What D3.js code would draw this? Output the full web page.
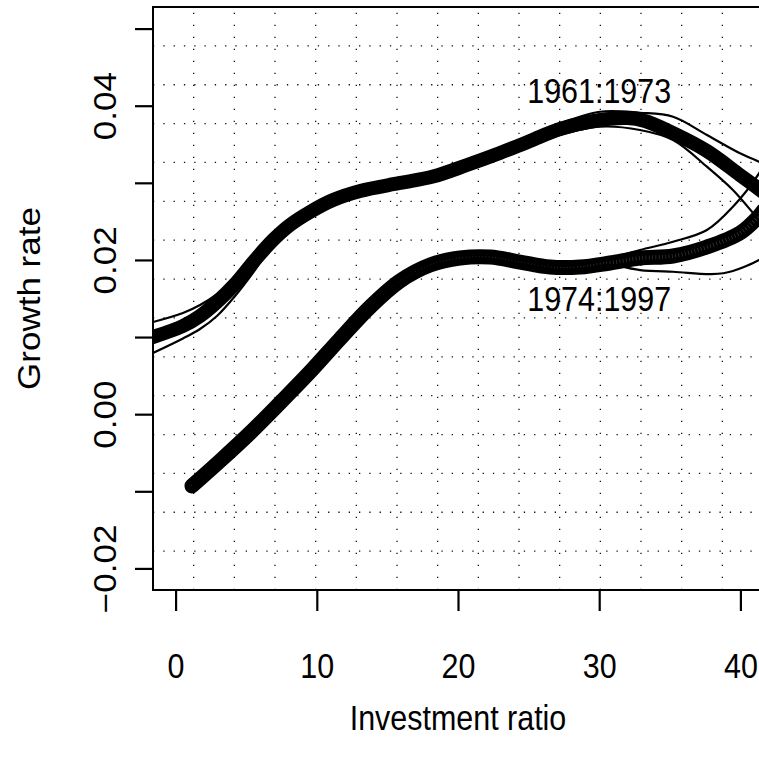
<!DOCTYPE html>
<html>
<head>
<meta charset="utf-8">
<script src="https://cdn.jsdelivr.net/npm/d3@7"></script>
<style>
html,body{margin:0;padding:0;background:#fff;}
svg{display:block;}
text{font-family:"Liberation Sans",Arial,Helvetica,sans-serif;fill:#000;}
</style>
</head>
<body>
<div id="chart"></div>
<script>
// ---------------- data ----------------
const xDataRange = [0, 40];
const yDataRange = [-0.02, 0.05];

const xTicks = [0, 10, 20, 30, 40];
const xTickLabels = ["0", "10", "20", "30", "40"];
const yTicks = [-0.02, -0.01, 0.00, 0.01, 0.02, 0.03, 0.04, 0.05];
const yTickLabels = ["\u22120.02", "", "0.00", "", "0.02", "", "0.04", ""];

const xLabel = "Investment ratio";
const yLabel = "Growth rate";

// 1961:1973 fit
const x1961 = [-1.6, 0.52, 1.73, 2.93, 4.21, 5.62, 6.90, 8.10, 9.52, 11.15, 13.07, 15.89, 18.23, 20.64, 22.97, 25.10, 27.22, 30.06, 31.97, 33.24, 35.23, 37.63, 39.97, 41.6];
const y1961 = [0.01001, 0.01143, 0.01273, 0.01455, 0.01688, 0.01999, 0.02258, 0.02453, 0.02622, 0.02777, 0.02894, 0.02998, 0.03082, 0.03231, 0.03387, 0.03542, 0.03698, 0.03815, 0.03840, 0.03802, 0.03646, 0.03413, 0.03101, 0.02881];
// 1961:1973 upper band
const x1961U = [-1.6, 0.52, 1.73, 2.93, 4.21, 5.62, 6.90, 8.10, 9.52, 11.15, 13.07, 15.89, 18.23, 20.64, 22.97, 25.10, 27.22, 30.06, 32.89, 35.23, 37.63, 39.97, 41.32, 41.6];
const y1961U = [0.01195, 0.01312, 0.01416, 0.01558, 0.01753, 0.02051, 0.02310, 0.02505, 0.02674, 0.02829, 0.02946, 0.03050, 0.03134, 0.03283, 0.03439, 0.03600, 0.03770, 0.03922, 0.03909, 0.03857, 0.03620, 0.03383, 0.03274, 0.03244];
// 1961:1973 lower band
const x1961L = [-1.6, 0.52, 1.73, 2.93, 4.21, 5.62, 6.90, 8.10, 9.52, 11.15, 13.07, 15.89, 18.23, 20.64, 22.97, 25.10, 27.22, 30.06, 32.89, 35.23, 37.63, 39.47, 41.32, 41.6];
const y1961L = [0.00793, 0.00981, 0.01104, 0.01273, 0.01532, 0.01869, 0.02206, 0.02401, 0.02570, 0.02725, 0.02842, 0.02946, 0.03030, 0.03179, 0.03335, 0.03480, 0.03620, 0.03728, 0.03685, 0.03555, 0.03209, 0.02907, 0.02518, 0.02466];

// 1974:1997 fit
const x1974 = [1.16, 3.14, 5.27, 7.39, 9.52, 11.64, 13.77, 15.89, 18.02, 20.14, 22.27, 24.39, 26.52, 28.64, 30.76, 32.89, 35.23, 37.63, 39.97, 41.32, 41.6];
const y1974 = [-0.00931, -0.00607, -0.00244, 0.00145, 0.00547, 0.00975, 0.01390, 0.01727, 0.01934, 0.02025, 0.02038, 0.01973, 0.01908, 0.01908, 0.01960, 0.02025, 0.02051, 0.02168, 0.02349, 0.02570, 0.02635];
// 1974:1997 upper band
const x1974U = [1.16, 3.14, 5.27, 7.39, 9.52, 11.64, 13.77, 15.89, 18.02, 20.14, 22.27, 24.39, 26.52, 28.64, 30.76, 32.89, 35.23, 37.63, 39.47, 41.32, 41.6];
const y1974U = [-0.00911, -0.00587, -0.00224, 0.00165, 0.00567, 0.00995, 0.01410, 0.01747, 0.01954, 0.02045, 0.02058, 0.01993, 0.01928, 0.01935, 0.02020, 0.02129, 0.02236, 0.02388, 0.02690, 0.03123, 0.03220];
// 1974:1997 lower band
const x1974L = [1.16, 3.14, 5.27, 7.39, 9.52, 11.64, 13.77, 15.89, 18.02, 20.14, 22.27, 24.39, 26.52, 28.64, 30.76, 32.89, 35.23, 38.79, 41.32, 41.6];
const y1974L = [-0.00951, -0.00627, -0.00264, 0.00125, 0.00527, 0.00955, 0.01370, 0.01707, 0.01914, 0.02005, 0.02018, 0.01953, 0.01888, 0.01888, 0.01935, 0.01869, 0.01847, 0.01827, 0.01999, 0.02040];

const labels = [
  {text: "1961:1973", x: 30, y: 0.042},
  {text: "1974:1997", x: 30, y: 0.015}
];

// ---------------- layout ----------------
const W = 759, H = 758;
const plot = {left: 153, top: 7, right: 763, bottom: 590};
const squeeze = 0.87;        // horizontal compression of glyphs
const fontSize = 35;

const ext = (r) => { const d = (r[1] - r[0]) * 0.04; return [r[0] - d, r[1] + d]; };
const xlim = ext(xDataRange), ylim = ext(yDataRange);

const x = d3.scaleLinear().domain(xlim).range([plot.left, plot.right]);
const y = d3.scaleLinear().domain(ylim).range([plot.bottom, plot.top]);

const svg = d3.select("#chart").append("svg")
  .attr("width", W).attr("height", H)
  .attr("viewBox", `0 0 ${W} ${H}`);
svg.append("rect").attr("width", W).attr("height", H).attr("fill", "#fff");

svg.append("clipPath").attr("id", "clip")
  .append("rect")
  .attr("x", plot.left).attr("y", plot.top)
  .attr("width", plot.right - plot.left).attr("height", plot.bottom - plot.top);

// ---------------- grid (15 x 15, dotted) ----------------
const nGrid = 15;
const gGrid = svg.append("g").attr("clip-path", "url(#clip)");
const vPos = d3.range(1, nGrid).map(k => xlim[0] + k * (xlim[1] - xlim[0]) / nGrid);
const hPos = d3.range(1, nGrid).map(k => ylim[0] + k * (ylim[1] - ylim[0]) / nGrid);
gGrid.selectAll("line.v").data(vPos).join("line")
  .attr("class", "v")
  .attr("x1", d => x(d)).attr("x2", d => x(d))
  .attr("y1", y(ylim[0])).attr("y2", y(ylim[1]))
  .attr("stroke", "#111").attr("stroke-width", 1.3)
  .attr("stroke-dasharray", "1.3 10.7");
gGrid.selectAll("line.h").data(hPos).join("line")
  .attr("class", "h")
  .attr("y1", d => y(d)).attr("y2", d => y(d))
  .attr("x1", x(xlim[0])).attr("x2", x(xlim[1]))
  .attr("stroke", "#111").attr("stroke-width", 1.3)
  .attr("stroke-dasharray", "1.3 9");

// ---------------- curves ----------------
const line = d3.line().x(d => x(d[0])).y(d => y(d[1])).curve(d3.curveCatmullRom.alpha(0.5));
const zip = (a, b) => a.map((v, i) => [v, b[i]]);
const gCurves = svg.append("g").attr("clip-path", "url(#clip)");

// thick fitted curves
gCurves.append("path").datum(zip(x1961, y1961))
  .attr("d", line).attr("fill", "none").attr("stroke", "#000")
  .attr("stroke-width", 14).attr("stroke-linecap", "round").attr("stroke-linejoin", "round");
gCurves.append("path").datum(zip(x1974, y1974))
  .attr("d", line).attr("fill", "none").attr("stroke", "#000")
  .attr("stroke-width", 15).attr("stroke-linecap", "round").attr("stroke-linejoin", "round");
// texture of the overplotted circle symbols along 1974:1997
gCurves.append("path").datum(zip(x1974, y1974))
  .attr("d", line).attr("fill", "none").attr("stroke", "#3a3a3a")
  .attr("stroke-width", 4).attr("stroke-dasharray", "0.7 2.6");

// thin band lines
[[x1961U, y1961U], [x1961L, y1961L], [x1974U, y1974U], [x1974L, y1974L]].forEach(([xs, ys]) => {
  gCurves.append("path").datum(zip(xs, ys))
    .attr("d", line).attr("fill", "none").attr("stroke", "#000")
    .attr("stroke-width", 2.2);
});

// ---------------- labels in plot ----------------
svg.append("g").selectAll("text").data(labels).join("text")
  .attr("transform", d => `translate(${x(d.x)},${y(d.y)}) scale(${squeeze},1)`)
  .attr("text-anchor", "middle").attr("dy", "0.36em")
  .attr("font-size", fontSize)
  .text(d => d.text);

// ---------------- box ----------------
svg.append("rect")
  .attr("x", plot.left).attr("y", plot.top)
  .attr("width", plot.right - plot.left).attr("height", plot.bottom - plot.top)
  .attr("fill", "none").attr("stroke", "#000").attr("stroke-width", 2);

// ---------------- axes ----------------
const gx = svg.append("g").attr("transform", `translate(0,${plot.bottom})`)
  .call(d3.axisBottom(x).tickValues(xTicks).tickFormat((d, i) => xTickLabels[i]).tickSize(21).tickSizeOuter(0));
gx.select(".domain").remove();
gx.append("line").attr("x1", x(xTicks[0])).attr("x2", x(xTicks[xTicks.length - 1]))
  .attr("stroke", "#000").attr("stroke-width", 2.2);
gx.selectAll(".tick line").attr("stroke", "#000").attr("stroke-width", 2.2);
gx.selectAll(".tick text")
  .attr("y", null).attr("dy", null)
  .attr("transform", `translate(0,88) scale(${squeeze},1)`)
  .attr("font-size", fontSize).attr("fill", "#000")
  .attr("font-family", '"Liberation Sans",Arial,Helvetica,sans-serif');

const gy = svg.append("g").attr("transform", `translate(${plot.left},0)`)
  .call(d3.axisLeft(y).tickValues(yTicks).tickFormat((d, i) => yTickLabels[i]).tickSize(18).tickSizeOuter(0));
gy.select(".domain").remove();
gy.append("line").attr("y1", y(yTicks[0])).attr("y2", y(yTicks[yTicks.length - 1]))
  .attr("stroke", "#000").attr("stroke-width", 2);
gy.selectAll(".tick line").attr("stroke", "#000").attr("stroke-width", 2.2);
gy.selectAll(".tick text")
  .attr("x", null).attr("dy", null)
  .attr("text-anchor", "middle")
  .attr("transform", `translate(-37,0) scale(${squeeze},1) rotate(-90)`)
  .attr("font-size", fontSize).attr("fill", "#000")
  .attr("font-family", '"Liberation Sans",Arial,Helvetica,sans-serif');

// axis titles
svg.append("text")
  .attr("transform", `translate(${(plot.left + plot.right) / 2},730) scale(${squeeze},1)`)
  .attr("text-anchor", "middle").attr("font-size", fontSize)
  .text(xLabel);
svg.append("text")
  .attr("transform", `translate(40,${(plot.top + plot.bottom) / 2}) scale(${squeeze},1) rotate(-90)`)
  .attr("text-anchor", "middle").attr("font-size", fontSize)
  .text(yLabel);
</script>
</body>
</html>
